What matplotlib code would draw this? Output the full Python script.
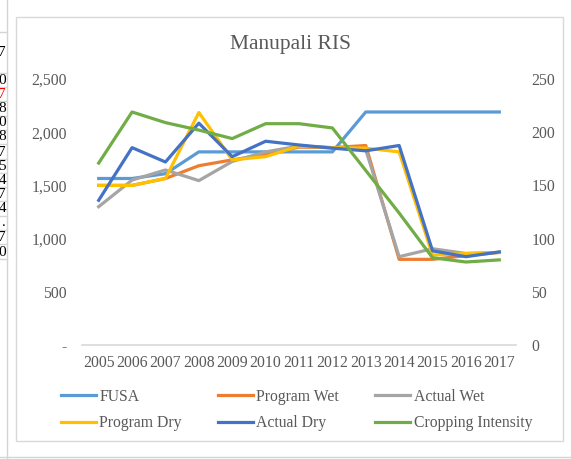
import matplotlib
matplotlib.use("Agg")
import matplotlib.pyplot as plt
from matplotlib.lines import Line2D
from matplotlib.patches import Rectangle
from matplotlib.ticker import FuncFormatter

plt.rcParams['font.family'] = ['Liberation Serif', 'DejaVu Serif']

# 数据
years = ['2005', '2006', '2007', '2008', '2009', '2010', '2011',
         '2012', '2013', '2014', '2015', '2016', '2017']
fusa = [1565, 1565, 1610, 1815, 1815, 1815, 1815, 1815, 2190, 2190, 2190, 2190, 2190]
program_wet = [1500, 1500, 1565, 1685, 1740, 1790, 1860, 1855, 1875, 805, 805, 840, 870]
actual_wet = [1300, 1550, 1645, 1545, 1725, 1815, 1870, 1855, 1835, 830, 905, 860, 870]
program_dry = [1500, 1500, 1565, 2185, 1740, 1770, 1870, 1855, 1850, 1815, 845, 860, 870]
actual_dry = [1360, 1855, 1720, 2085, 1770, 1915, 1880, 1850, 1825, 1875, 885, 830, 875]
cropping = [171, 219, 209, 202, 194, 208, 208, 204, 164, 124, 82, 78, 80]

# 左侧表格残留的单元格内容
cell_texts = ['7', '0', '7', '8', '0', '8', '7', '5', '4', '7', '4', '.', '7', '0']
cell_colors = ['black', 'black', 'red'] + ['black'] * 11

W, H = 571, 459
fig = plt.figure(figsize=(W / 100, H / 100), dpi=100)


def fx(px):
    return px / W


def fy(py):
    return 1 - py / H


grid_c = '#d4d4d4'
text_c = '#595959'

# 表格线
fig.add_artist(Line2D([fx(7), fx(7)], [0, 1], color=grid_c, lw=1))
fig.add_artist(Line2D([0, 1], [fy(457), fy(457)], color=grid_c, lw=1))
row_lines = [32, 73, 87, 101, 116, 130, 144, 159, 173, 187, 201, 216, 230, 244, 259]
for y in row_lines:
    fig.add_artist(Line2D([0, fx(7)], [fy(y), fy(y)], color=grid_c, lw=1))
row_y = [52, 80, 94, 108, 123, 137, 152, 166, 180, 194, 208, 223, 237, 252]
for t, c, y in zip(cell_texts, cell_colors, row_y):
    fig.text(fx(6), fy(y), t, ha='right', va='center', fontsize=11, color=c)

# 图表外框
fig.add_artist(Rectangle((fx(16), fy(441)), fx(563) - fx(16), fy(17) - fy(441),
                         transform=fig.transFigure, fill=False,
                         edgecolor='#d9d9d9', lw=1))

ax = fig.add_axes([fx(82), fy(345), fx(516) - fx(82), fy(79) - fy(345)])
ax2 = ax.twinx()

x = list(range(len(years)))
lw = 2.3
l1, = ax.plot(x, fusa, color='#5B9BD5', lw=lw, label='FUSA')
l2, = ax.plot(x, program_wet, color='#ED7D31', lw=lw, label='Program Wet')
l3, = ax.plot(x, actual_wet, color='#A5A5A5', lw=lw, label='Actual Wet')
l4, = ax.plot(x, program_dry, color='#FFC000', lw=lw, label='Program Dry')
l5, = ax.plot(x, actual_dry, color='#4472C4', lw=lw, label='Actual Dry')
l6, = ax2.plot(x, cropping, color='#70AD47', lw=lw, label='Cropping Intensity')

ax.set_xlim(-0.5, len(years) - 0.5)
ax.set_ylim(0, 2500)
ax2.set_ylim(0, 250)
ax.set_yticks(range(0, 2501, 500))
ax2.set_yticks(range(0, 251, 50))
ax.set_xticks(x)
ax.set_xticklabels(years)
ax.yaxis.set_major_formatter(FuncFormatter(lambda v, p: '-' if v == 0 else f'{int(v):,}'))

for a in (ax, ax2):
    for s in a.spines.values():
        s.set_visible(False)
    a.tick_params(length=0, labelsize=11.3, labelcolor=text_c)
    a.set_facecolor('none')
ax.spines['bottom'].set_visible(True)
ax.spines['bottom'].set_color('#d9d9d9')
ax.spines['bottom'].set_linewidth(1.2)
ax.tick_params(axis='y', pad=11)
ax.tick_params(axis='x', pad=7)
ax2.tick_params(axis='y', pad=11)

fig.text(fx(290), fy(45), 'Manupali RIS', ha='center', va='center',
         fontsize=15.5, color=text_c)

# 图例按行排列（matplotlib 按列填充，因此调整顺序）
handles = [l1, l4, l2, l5, l3, l6]
fig.legend(handles, [h.get_label() for h in handles], ncol=3,
           loc='center left', bbox_to_anchor=(fx(61), fy(410)),
           frameon=False, fontsize=11.3, labelcolor=text_c,
           handlelength=2.2, handletextpad=0.25, columnspacing=2.3,
           labelspacing=0.65, borderpad=0, borderaxespad=0)

fig.savefig('out.png', dpi=100)
